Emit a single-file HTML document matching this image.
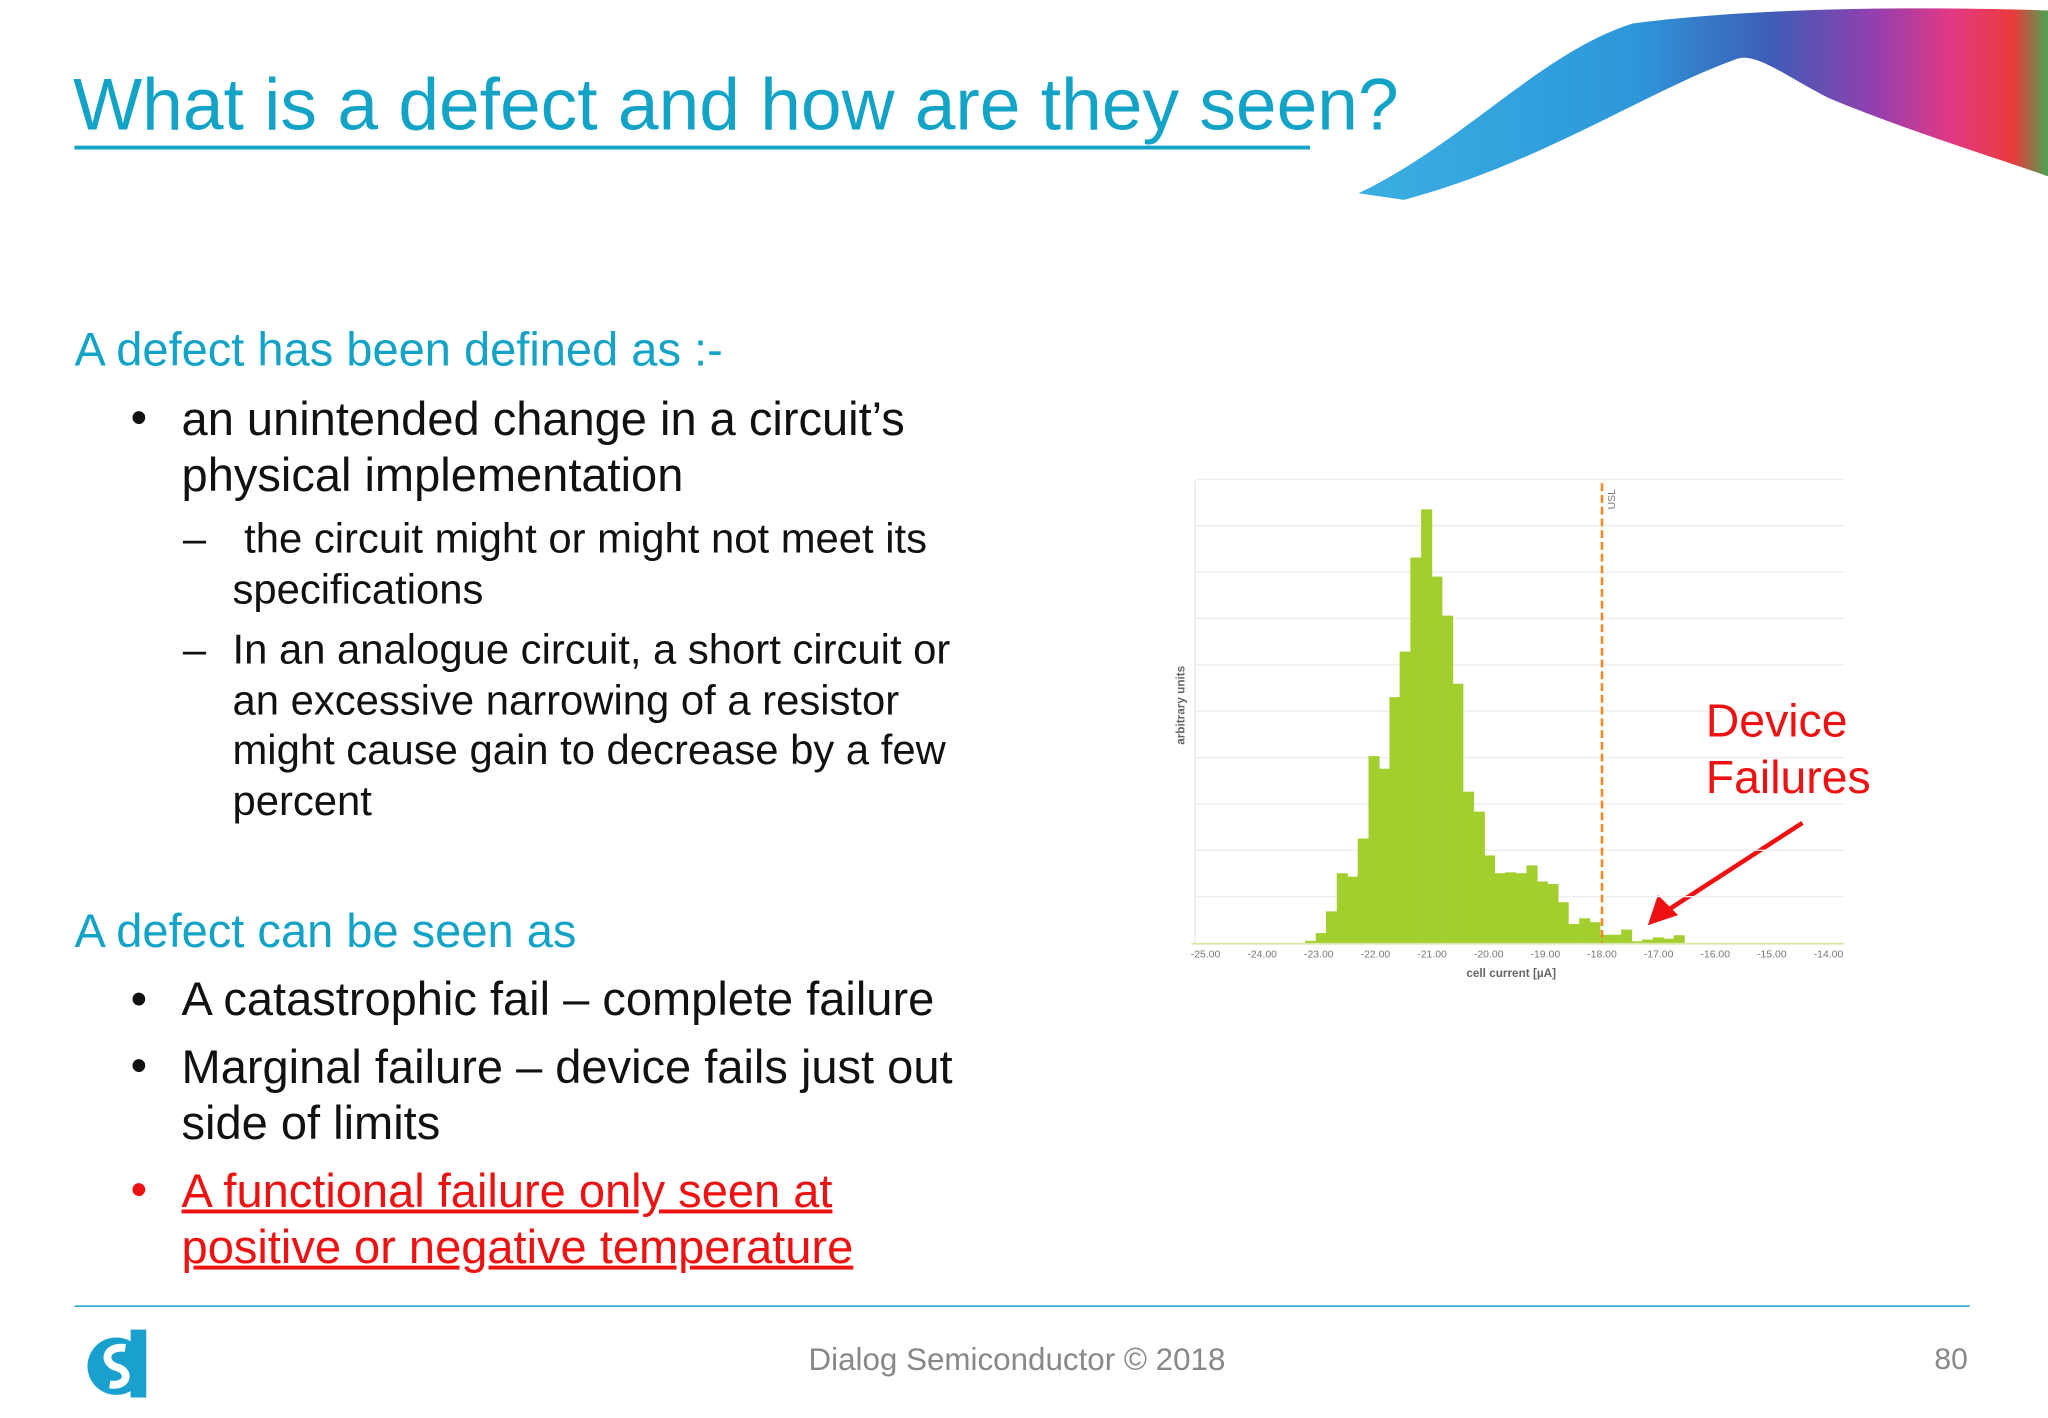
<!DOCTYPE html>
<html><head><meta charset="utf-8">
<style>
html,body{margin:0;padding:0;background:#fff;overflow:hidden;width:2048px;height:1418px}
#s{position:absolute;left:0;top:0;width:1568px;height:1086px;transform:scale(1.30612);transform-origin:0 0;font-family:"Liberation Sans",Arial,sans-serif}
.t{position:absolute;white-space:nowrap}
.teal{color:#13a3c6}
.b{font-size:36px;color:#111}
.sb{font-size:32px;color:#111}
</style></head><body>
<div id="s">
<svg width="1568" height="1086" style="position:absolute;left:0;top:0">
<defs><linearGradient id="sw" x1="0" y1="0" x2="1" y2="0">
<stop offset="0" stop-color="#2aa8e0"/><stop offset="0.4" stop-color="#1b8fd6"/><stop offset="0.6" stop-color="#2e4fb0"/><stop offset="0.75" stop-color="#8a2fa8"/><stop offset="0.86" stop-color="#e0287a"/><stop offset="0.95" stop-color="#e82a2a"/><stop offset="1" stop-color="#3d9a45"/></linearGradient></defs>
<path d="M1040,148 C1120,110 1180,40 1250,18 C1350,5 1480,5 1568,8 L1568,135 C1520,118 1460,100 1400,75 C1370,60 1345,40 1330,45 C1260,70 1180,125 1075,153 Z" fill="url(#sw)" opacity="0.92"/>
<line x1="57" y1="113" x2="1003" y2="113" stroke="#13a3c6" stroke-width="3"/>
<line x1="57" y1="1000" x2="1508" y2="1000" stroke="#13a3c6" stroke-width="1.2"/>
<g>
<circle cx="89" cy="1046" r="22" fill="#1aa0cf"/>
<path d="M100,1018 L112,1018 L112,1070 L100,1070Z" fill="#1aa0cf"/>
<path d="M96,1032 C80,1030 78,1044 90,1047 C100,1050 98,1062 84,1060" stroke="#fff" stroke-width="6" fill="none"/>
</g>
<line x1="1380" y1="630" x2="1272" y2="700" stroke="#ee1111" stroke-width="3.5"/>
<path d="M1264,706 L1270,688 L1282,700 Z" fill="#ee1111" stroke="#ee1111" stroke-width="3"/>
<g id="chart"></g>
</svg>
<div class="t teal" style="left:56px;top:47px;font-size:56px">What is a defect and how are they seen?</div>
<div class="t teal" style="left:57px;top:247px;font-size:36px">A defect has been defined as :-</div>
<div class="t b" style="left:100px;top:299px">•</div>
<div class="t b" style="left:139px;top:299px;line-height:43px">an unintended change in a circuit’s<br>physical implementation</div>
<div class="t sb" style="left:140px;top:393px;line-height:39px">–</div>
<div class="t sb" style="left:178px;top:393px;line-height:39px">&nbsp;the circuit might or might not meet its<br>specifications</div>
<div class="t sb" style="left:140px;top:478px;line-height:39px">–</div>
<div class="t sb" style="left:178px;top:478px;line-height:38.5px">In an analogue circuit, a short circuit or<br>an excessive narrowing of a resistor<br>might cause gain to decrease by a few<br>percent</div>
<div class="t teal" style="left:57px;top:692px;font-size:36px">A defect can be seen as</div>
<div class="t b" style="left:100px;top:744px">•</div>
<div class="t b" style="left:139px;top:744px">A catastrophic fail – complete failure</div>
<div class="t b" style="left:100px;top:795px">•</div>
<div class="t b" style="left:139px;top:795px;line-height:43px">Marginal failure – device fails just out<br>side of limits</div>
<div class="t b" style="left:100px;top:890px;color:#ee1111">•</div>
<div class="t b" style="left:139px;top:890px;line-height:43px;color:#ee1111;text-decoration:underline">A functional failure only seen at<br>positive or negative temperature</div>
<div class="t" style="left:1306px;top:531px;font-size:35.5px;line-height:43px;color:#ee1111">Device<br>Failures</div>
<div class="t" style="left:619px;top:1028px;font-size:24px;color:#888">Dialog Semiconductor © 2018</div>
<div class="t" style="left:1481px;top:1027px;font-size:23px;color:#888">80</div>
</div>
<script>
const binCenters=[-23.15,-22.96,-22.78,-22.59,-22.41,-22.22,-22.03,-21.85,-21.66,-21.48,-21.29,-21.10,-20.92,-20.73,-20.55,-20.36,-20.17,-19.99,-19.80,-19.62,-19.43,-19.24,-19.06,-18.87,-18.69,-18.50,-18.31,-18.13,-17.94,-17.76,-17.57,-17.38,-17.20,-17.01,-16.83,-16.64];
const binValues=[0.5,2.3,7.3,16.1,15.3,24.1,43.1,40.2,56.7,67.2,88.9,100,84.5,75.5,59.8,34.9,30.3,20.2,16.1,16.3,16.1,17.9,14.2,13.6,9.4,4.4,5.7,4.8,1.9,1.9,3.1,0.4,0.8,1.3,1.0,1.8];
const xTicks=[-25,-24,-23,-22,-21,-20,-19,-18,-17,-16,-15,-14];
const usl=-18.0;
const binWidth=0.186;
const NS='http://www.w3.org/2000/svg';
const g=document.getElementById('chart');
const X=v=>923+(v+25)*43.36;
const Y=v=>722-v*3.32;
function mk(t,a){const e=document.createElementNS(NS,t);for(const k in a)e.setAttribute(k,a[k]);g.appendChild(e);return e;}
for(let k=1;k<=10;k++){const l=mk('line',{x1:915,x2:1412,y1:722-k*35.5,y2:722-k*35.5,stroke:'#eeeeee','stroke-width':1});

}
const ax=mk('line',{x1:915,x2:915,y1:368,y2:722,stroke:'#e8e8e8','stroke-width':1});


binCenters.forEach((c,i)=>{const r=mk('rect',{x:X(c-binWidth/2),y:Y(binValues[i]),width:binWidth*43.36+0.4,height:722-Y(binValues[i]),fill:'#a3cf2e'});

});
const bl=mk('line',{x1:912,x2:1412,y1:722.5,y2:722.5,stroke:'#d8e8a8','stroke-width':1.5});


xTicks.forEach(v=>{const t=mk('text',{x:X(v),y:733,'font-size':8,'text-anchor':'middle',fill:'#777','font-family':'Liberation Sans, sans-serif'});t.textContent=v.toFixed(2);

});
const ul=mk('line',{x1:X(usl),x2:X(usl),y1:370,y2:722,stroke:'#f08a24','stroke-width':2,'stroke-dasharray':'6,3'});


const ut=mk('text',{x:0,y:0,'font-size':8,fill:'#777',transform:`translate(${X(usl)+10},390) rotate(-90)`,'font-family':'Liberation Sans, sans-serif'});ut.textContent='USL';


const xt=mk('text',{x:1157,y:748,'font-size':9,'font-weight':'bold','text-anchor':'middle',fill:'#666','font-family':'Liberation Sans, sans-serif'});xt.textContent='cell current [µA]';


const yt=mk('text',{x:0,y:0,'font-size':9,'font-weight':'bold','text-anchor':'middle',fill:'#666',transform:'translate(907,540) rotate(-90)','font-family':'Liberation Sans, sans-serif'});yt.textContent='arbitrary units';


</script>
</body></html>
